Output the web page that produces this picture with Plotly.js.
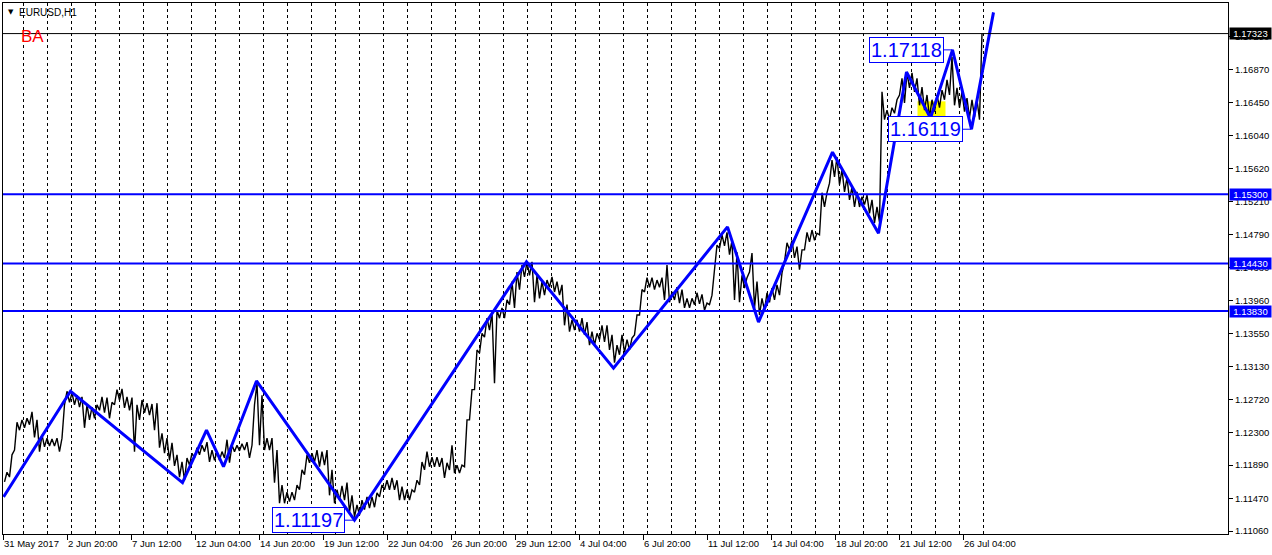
<!DOCTYPE html>
<html><head><meta charset="utf-8">
<script src="https://cdn.plot.ly/plotly-3.0.1.min.js"></script>
<style>html,body{margin:0;padding:0;background:#fff;}#chart{width:1272px;height:555px;}</style>
</head><body><div id="chart"></div>
<script>
// ---- data (EURUSD H1, 5-bar buckets: high / low) ----
const bucketSize = 5;
const highs = [1.1180,1.1202,1.1243,1.1246,1.1248,1.1256,1.1246,1.1227,1.1223,1.1222,
1.1223,1.1223,1.1282,1.1280,1.1277,1.1275,1.1265,1.1262,1.1265,1.1275,
1.1274,1.1268,1.1284,1.1285,1.1275,1.1274,1.1265,1.1271,1.1267,1.1266,
1.1267,1.1229,1.1223,1.1217,1.1202,1.1193,1.1198,1.1204,1.1211,1.1214,
1.1218,1.1208,1.1206,1.1206,1.1221,1.1214,1.1214,1.1216,1.1218,1.1214,
1.1292,1.1277,1.1223,1.1223,1.1208,1.1164,1.1155,1.1155,1.1164,1.1183,
1.1202,1.1204,1.1208,1.1206,1.1208,1.1183,1.1158,1.1163,1.1167,1.1151,
1.1139,1.1145,1.1149,1.1149,1.1154,1.1164,1.1170,1.1173,1.1170,1.1162,
1.1158,1.1158,1.1170,1.1193,1.1206,1.1199,1.1199,1.1198,1.1192,1.1214,
1.1189,1.1189,1.1246,1.1284,1.1334,1.1355,1.1374,1.1381,1.1384,1.1387,
1.1397,1.1420,1.1432,1.1441,1.1445,1.1445,1.1428,1.1420,1.1422,1.1426,
1.1420,1.1416,1.1391,1.1372,1.1372,1.1374,1.1369,1.1357,1.1355,1.1365,
1.1365,1.1353,1.1340,1.1353,1.1347,1.1349,1.1378,1.1410,1.1425,1.1425,
1.1422,1.1425,1.1441,1.1407,1.1413,1.1410,1.1399,1.1399,1.1406,1.1404,
1.1393,1.1403,1.1466,1.1479,1.1482,1.1472,1.1457,1.1428,1.1425,1.1456,
1.1420,1.1399,1.1406,1.1412,1.1416,1.1431,1.1469,1.1472,1.1464,1.1460,
1.1482,1.1485,1.1481,1.1532,1.1532,1.1573,1.1577,1.1561,1.1551,1.1539,
1.1533,1.1527,1.1529,1.1523,1.1514,1.1659,1.1636,1.1639,1.1649,1.1676,
1.1683,1.1683,1.1676,1.1665,1.1655,1.1649,1.1655,1.1661,1.1674,1.1703,
1.1664,1.1659,1.1651,1.1649,1.1649,1.17323];
const lows = [1.1168,1.1174,1.1208,1.1233,1.1236,1.1240,1.1224,1.1206,1.1212,1.1213,
1.1213,1.1206,1.1265,1.1268,1.1265,1.1262,1.1236,1.1246,1.1248,1.1258,
1.1255,1.1248,1.1265,1.1271,1.1261,1.1258,1.1206,1.1246,1.1255,1.1252,
1.1233,1.1211,1.1204,1.1195,1.1188,1.1174,1.1170,1.1189,1.1198,1.1202,
1.1206,1.1193,1.1195,1.1195,1.1198,1.1192,1.1206,1.1207,1.1208,1.1198,
1.1265,1.1214,1.1208,1.1208,1.1167,1.1141,1.1141,1.1143,1.1145,1.1158,
1.1177,1.1192,1.1193,1.1187,1.1189,1.1151,1.1141,1.1145,1.1145,1.1130,
1.1124,1.1126,1.1133,1.1135,1.1136,1.1149,1.1158,1.1158,1.1158,1.1145,
1.1145,1.1145,1.1155,1.1164,1.1183,1.1187,1.1187,1.1187,1.1173,1.1183,
1.1179,1.1179,1.1187,1.1246,1.1284,1.1330,1.1350,1.1359,1.1292,1.1374,
1.1374,1.1391,1.1387,1.1410,1.1426,1.1428,1.1394,1.1399,1.1403,1.1413,
1.1407,1.1403,1.1365,1.1357,1.1359,1.1357,1.1353,1.1340,1.1340,1.1347,
1.1344,1.1334,1.1318,1.1328,1.1331,1.1334,1.1353,1.1378,1.1407,1.1413,
1.1410,1.1413,1.1397,1.1394,1.1397,1.1393,1.1387,1.1387,1.1391,1.1392,
1.1384,1.1391,1.1435,1.1462,1.1465,1.1454,1.1397,1.1394,1.1412,1.1432,
1.1387,1.1378,1.1384,1.1394,1.1397,1.1403,1.1445,1.1460,1.1450,1.1435,
1.1460,1.1470,1.1472,1.1479,1.1514,1.1544,1.1552,1.1542,1.1533,1.1523,
1.1514,1.1514,1.1517,1.1506,1.1494,1.1495,1.1624,1.1624,1.1632,1.1655,
1.1645,1.1664,1.1659,1.1642,1.1636,1.1627,1.1634,1.1639,1.1649,1.1655,
1.1642,1.1639,1.1634,1.1626,1.1627,1.1624];
const lastPrice = 1.17323;
const lastPriceText = "1.17323";

// ZigZag indicator pivots
const zigBars   = [0, 67, 179, 203, 220, 253, 351, 523, 610, 724, 755, 829, 875, 903, 927, 949, 968, 990];
const zigPrices = [1.1149,1.1282,1.1167,1.1233,1.1187,1.1295,1.11197,1.1445,1.1311,1.1489,1.1369,1.1583,1.1481,1.1684,1.1626,1.17118,1.16119,1.1759];

// labelled pivots
const calloutText   = ["1.11197", "1.17118", "1.16119"];
const calloutBars   = [351, 949, 968];
const calloutPrices = [1.11197, 1.17118, 1.16119];

// horizontal levels
const levels = [1.15300, 1.14430, 1.13830];
const levelText = ["1.15300", "1.14430", "1.13830"];

// yellow zone
const zoneBars = [914, 942];
const zonePrices = [1.1616, 1.1647];

// axes
const yTickVals = [1.1106,1.1147,1.1189,1.1230,1.1272,1.1313,1.1355,1.1396,1.1438,1.1479,1.1521,1.1562,1.1604,1.1645,1.1687,1.1729];
const yTickText = ["1.11060","1.11470","1.11890","1.12300","1.12720","1.13130","1.13550","1.13960","1.14380","1.14790","1.15210","1.15620","1.16040","1.16450","1.16870","1.17290"];
const xTickBars = [0,64,128,192,256,320,384,448,512,576,640,704,768,832,896,960];
const xTickText = ["31 May 2017","2 Jun 20:00","7 Jun 12:00","12 Jun 04:00","14 Jun 20:00","19 Jun 12:00","22 Jun 04:00","26 Jun 20:00","29 Jun 12:00","4 Jul 04:00","6 Jul 20:00","11 Jul 12:00","14 Jul 04:00","18 Jul 20:00","21 Jul 12:00","26 Jul 04:00"];
const firstDayBar = 20, barsPerDay = 24, lastDayBar = 980;

// ---- build ----
const px = [], py = [];
for (let i = 0; i < highs.length; i++) {
  px.push(i * bucketSize + 1, i * bucketSize + 3.5);
  py.push(lows[i], highs[i]);
}
const dayBars = [];
for (let b = firstDayBar; b <= lastDayBar; b += barsPerDay) dayBars.push(b);

const BLUE = '#0000ff';
const FONT = 'Liberation Sans, Arial, sans-serif';

const traces = [
  {x: px, y: py, type: 'scatter', mode: 'lines', line: {color: '#000', width: 1.4}, hoverinfo: 'skip'},
  {x: zigBars, y: zigPrices, type: 'scatter', mode: 'lines', line: {color: BLUE, width: 3}, hoverinfo: 'skip'}
];

const shapes = [];
shapes.push({type: 'rect', xref: 'x', yref: 'y', x0: zoneBars[0], x1: zoneBars[1], y0: zonePrices[0], y1: zonePrices[1],
  fillcolor: '#ffff00', line: {width: 0}, layer: 'below'});
levels.forEach(v => shapes.push({type: 'line', xref: 'paper', x0: 0, x1: 1, yref: 'y', y0: v, y1: v, line: {color: BLUE, width: 2}}));
shapes.push({type: 'line', xref: 'paper', x0: 0, x1: 1, yref: 'y', y0: lastPrice, y1: lastPrice, line: {color: '#000', width: 1}});

const annotations = [];
xTickBars.forEach((b, i) => annotations.push({
  x: b, xref: 'x', y: 0, yref: 'paper', yanchor: 'top', xanchor: 'left', yshift: -2, xshift: -2,
  text: xTickText[i], showarrow: false, font: {family: FONT, size: 9.5, color: '#000'}
}));
levels.forEach((v, i) => annotations.push({
  x: 1, xref: 'paper', y: v, yref: 'y', xanchor: 'left', yanchor: 'middle', xshift: 1,
  text: levelText[i], showarrow: false, bgcolor: BLUE, width: 41, height: 11, borderpad: 0,
  font: {family: FONT, size: 9.5, color: '#fff'}
}));
annotations.push({
  x: 1, xref: 'paper', y: lastPrice, yref: 'y', xanchor: 'left', yanchor: 'middle', xshift: 1,
  text: lastPriceText, showarrow: false, bgcolor: '#000', width: 41, height: 11, borderpad: 0,
  font: {family: FONT, size: 9.5, color: '#fff'}
});
calloutText.forEach((t, i) => annotations.push({
  x: calloutBars[i], xref: 'x', y: calloutPrices[i], yref: 'y',
  text: t, showarrow: true, arrowhead: 0, arrowwidth: 1, arrowcolor: BLUE, ax: -46, ay: 0, standoff: 0,
  bgcolor: '#fff', bordercolor: BLUE, borderwidth: 1, borderpad: 1,
  font: {family: FONT, size: 20, color: BLUE}
}));
annotations.push({x: 0, xref: 'paper', y: 1, yref: 'paper', xanchor: 'left', yanchor: 'top', xshift: 3, yshift: -3,
  text: '▼', showarrow: false, font: {family: 'DejaVu Sans', size: 7, color: '#000'}});
annotations.push({x: 0, xref: 'paper', y: 1, yref: 'paper', xanchor: 'left', yanchor: 'top', xshift: 14, yshift: -2,
  text: 'EURUSD,H1', showarrow: false, font: {family: FONT, size: 10, color: '#000'}});
annotations.push({x: 0, xref: 'paper', y: 1, yref: 'paper', xanchor: 'left', yanchor: 'top', xshift: 16, yshift: -22,
  text: 'BA', showarrow: false, font: {family: FONT, size: 17, color: '#ff0000'}});

const layout = {
  width: 1272, height: 555,
  margin: {l: 3, r: 44, t: 3, b: 21, pad: 0},
  paper_bgcolor: '#fff', plot_bgcolor: '#fff',
  showlegend: false,
  xaxis: {
    range: [-0.5, 1224.5], showgrid: false, zeroline: false,
    showline: true, mirror: true, linecolor: '#000', linewidth: 1,
    tickmode: 'array', tickvals: xTickBars, showticklabels: false,
    ticks: 'outside', ticklen: 5, tickcolor: '#000', tickwidth: 1,
    minor: {tickmode: 'array', tickvals: dayBars, showgrid: true, gridcolor: '#000', griddash: '3px,3px', gridwidth: 1, ticks: ''}
  },
  yaxis: {
    side: 'right', range: [1.11023, 1.17708], showgrid: false, zeroline: false,
    showline: true, mirror: true, linecolor: '#000', linewidth: 1,
    tickmode: 'array', tickvals: yTickVals, ticktext: yTickText,
    ticks: 'outside', ticklen: 4, tickcolor: '#000', tickwidth: 1,
    tickfont: {family: FONT, size: 9.5, color: '#000'}
  },
  shapes: shapes,
  annotations: annotations
};

Plotly.newPlot('chart', traces, layout, {staticPlot: true, displayModeBar: false});
</script>
</body></html>
